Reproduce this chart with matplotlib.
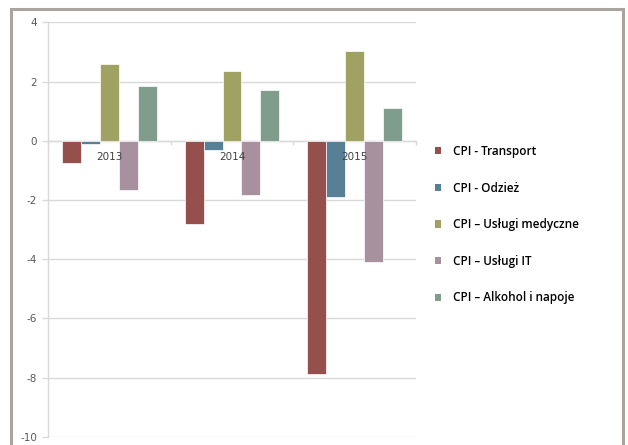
import matplotlib
matplotlib.use("Agg")
import matplotlib.pyplot as plt
from matplotlib.patches import Rectangle, Patch
import numpy as np

years = ["2013", "2014", "2015"]
series_names = [
    "CPI - Transport",
    "CPI - Odzież",
    "CPI – Usługi medyczne",
    "CPI – Usługi IT",
    "CPI – Alkohol i napoje",
]
transport = [-0.76, -2.81, -7.89]
odziez = [-0.12, -0.32, -1.89]
uslugi_medyczne = [2.58, 2.35, 3.03]
uslugi_it = [-1.67, -1.83, -4.11]
alkohol = [1.85, 1.71, 1.09]
values = [transport, odziez, uslugi_medyczne, uslugi_it, alkohol]
colors = ["#954F4C", "#577F96", "#A0A263", "#A8919F", "#7F9C8C"]
y_ticks = [4, 2, 0, -2, -4, -6, -8, -10]

W, H = 628, 445
fig = plt.figure(figsize=(W / 100, H / 100), dpi=100)
fig.patch.set_facecolor("white")

# outer frame
fig.add_artist(Rectangle((11 / W, -0.05), 612 / W, 1.05 - 8.5 / H,
                         transform=fig.transFigure, fill=False,
                         edgecolor="#ABA39D", linewidth=2.2, zorder=0))

left, right = 48 / W, 416 / W
top, bottom = (H - 22.3) / H, (H - 436.7) / H
ax = fig.add_axes([left, bottom, right - left, top - bottom])

n = len(values)
gap = 1.5
bw = 1.0 / (n + gap)
x = np.arange(len(years))
for i, (vals, c) in enumerate(zip(values, colors)):
    offs = (i - (n - 1) / 2) * bw
    ax.bar(x + offs, vals, width=bw, color=c, edgecolor="white",
           linewidth=0.5, zorder=2, label=series_names[i])

ax.set_xlim(-0.5, len(years) - 0.5)
ax.set_ylim(-10, 4)
ax.set_yticks(y_ticks)
ax.set_yticklabels([str(v) for v in y_ticks])
ax.yaxis.grid(True, color="#D9D9D9", linewidth=1.0, zorder=0)
ax.set_axisbelow(True)

for s in ["top", "right"]:
    ax.spines[s].set_visible(False)
ax.spines["left"].set_color("#D9D9D9")
ax.spines["left"].set_linewidth(1.0)
ax.spines["bottom"].set_position(("data", 0))
ax.spines["bottom"].set_color("#D9D9D9")
ax.spines["bottom"].set_linewidth(1.0)
ax.spines["bottom"].set_zorder(1)

ax.tick_params(axis="y", length=4, color="#D9D9D9", width=1.0,
               labelsize=7.5, labelcolor="#595959", pad=4)
ax.set_xticks(np.arange(-0.5, len(years), 1.0))
ax.set_xticklabels([])
ax.tick_params(axis="x", which="major", length=3, color="#D9D9D9", width=1.0)

for xi, yr in zip(x, years):
    ax.text(xi, -0.55, yr, ha="center", va="center", fontsize=7.5,
            color="#404040", zorder=5)

handles = [Patch(facecolor=c, edgecolor="none") for c in colors]
fig.legend(handles, series_names, loc="upper left",
           bbox_to_anchor=(435 / W, (H - 145) / H),
           frameon=False, handlelength=0.55, handleheight=0.55,
           handletextpad=0.95, labelspacing=2.0, borderaxespad=0,
           borderpad=0,
           prop={"family": ["Open Sans", "DejaVu Sans"], "weight": "semibold",
                 "size": 8.5})

fig.savefig("out.png", dpi=100)
